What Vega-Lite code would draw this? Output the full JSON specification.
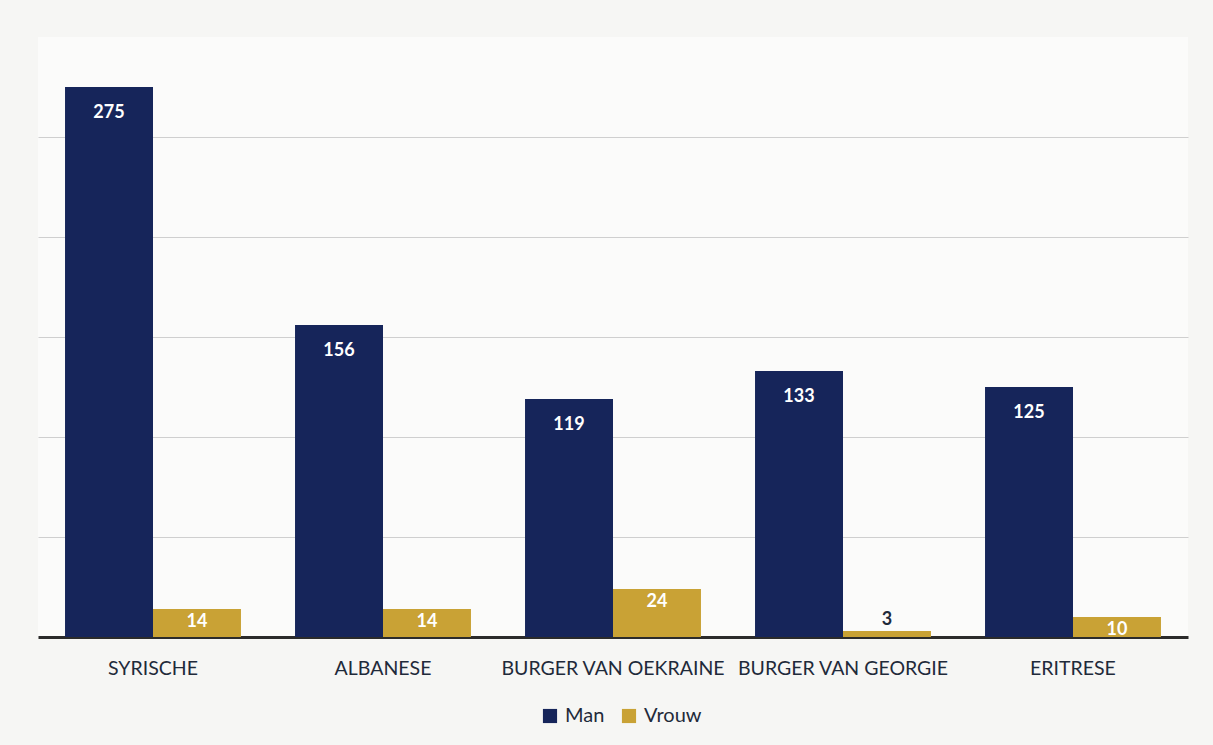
{
  "$schema": "https://vega.github.io/schema/vega-lite/v6.json",
  "width": 1150,
  "height": 600,
  "autosize": {"type": "none"},
  "padding": {"left": 38, "top": 37, "right": 25, "bottom": 108},
  "background": "#f6f6f4",
  "config": {"view": {"stroke": null, "fill": "#fbfbfa"}, "font": "Lato"},
  "data": {
    "values": [
      {"nationaliteit": "SYRISCHE", "geslacht": "Man", "aantal": 275},
      {"nationaliteit": "SYRISCHE", "geslacht": "Vrouw", "aantal": 14},
      {"nationaliteit": "ALBANESE", "geslacht": "Man", "aantal": 156},
      {"nationaliteit": "ALBANESE", "geslacht": "Vrouw", "aantal": 14},
      {"nationaliteit": "BURGER VAN OEKRAINE", "geslacht": "Man", "aantal": 119},
      {"nationaliteit": "BURGER VAN OEKRAINE", "geslacht": "Vrouw", "aantal": 24},
      {"nationaliteit": "BURGER VAN GEORGIE", "geslacht": "Man", "aantal": 133},
      {"nationaliteit": "BURGER VAN GEORGIE", "geslacht": "Vrouw", "aantal": 3},
      {"nationaliteit": "ERITRESE", "geslacht": "Man", "aantal": 125},
      {"nationaliteit": "ERITRESE", "geslacht": "Vrouw", "aantal": 10}
    ]
  },
  "encoding": {
    "x": {
      "field": "nationaliteit",
      "type": "nominal",
      "sort": null,
      "scale": {"paddingInner": 0.235, "paddingOuter": 0.1175},
      "axis": {
        "title": null,
        "labelAngle": 0,
        "labelFontSize": 19.5,
        "labelColor": "#1f2a3a",
        "labelFont": "Lato",
        "labelPadding": 22,
        "ticks": false,
        "domainColor": "#2b2b2b",
        "domainWidth": 3,
        "labelLimit": 400
      }
    },
    "xOffset": {
      "field": "geslacht",
      "type": "nominal",
      "sort": ["Man", "Vrouw"],
      "scale": {"paddingInner": 0, "paddingOuter": 0}
    },
    "y": {
      "field": "aantal",
      "type": "quantitative",
      "scale": {"domain": [0, 300], "nice": false},
      "axis": {
        "title": null,
        "labels": false,
        "ticks": false,
        "domain": false,
        "values": [50, 100, 150, 200, 250],
        "gridColor": "#cfcfcf",
        "gridWidth": 1.2
      }
    }
  },
  "layer": [
    {
      "mark": {"type": "bar"},
      "encoding": {
        "color": {
          "field": "geslacht",
          "type": "nominal",
          "scale": {"domain": ["Man", "Vrouw"], "range": ["#16255a", "#c9a235"]},
          "legend": {
            "title": null,
            "orient": "none",
            "legendX": 502,
            "legendY": 669,
            "direction": "horizontal",
            "symbolType": "square",
            "symbolSize": 200,
            "symbolStrokeWidth": 0,
            "labelFontSize": 20,
            "labelColor": "#1f2a3a",
            "labelFont": "Lato",
            "columnPadding": 14,
            "labelOffset": 5
          }
        }
      }
    },
    {
      "transform": [{"filter": "datum.geslacht == 'Man'"}],
      "mark": {"type": "text", "baseline": "middle", "dy": 26, "color": "white", "fontWeight": "bold", "fontSize": 18, "font": "Lato"},
      "encoding": {"text": {"field": "aantal", "type": "quantitative"}}
    },
    {
      "transform": [{"filter": "datum.geslacht == 'Vrouw' && datum.aantal >= 5"}],
      "mark": {"type": "text", "baseline": "middle", "dy": 13, "color": "white", "fontWeight": "bold", "fontSize": 18, "font": "Lato"},
      "encoding": {"text": {"field": "aantal", "type": "quantitative"}}
    },
    {
      "transform": [{"filter": "datum.geslacht == 'Vrouw' && datum.aantal < 5"}],
      "mark": {"type": "text", "baseline": "middle", "dy": -11, "color": "#1f2a3a", "fontWeight": "bold", "fontSize": 18, "font": "Lato"},
      "encoding": {"text": {"field": "aantal", "type": "quantitative"}}
    }
  ]
}
